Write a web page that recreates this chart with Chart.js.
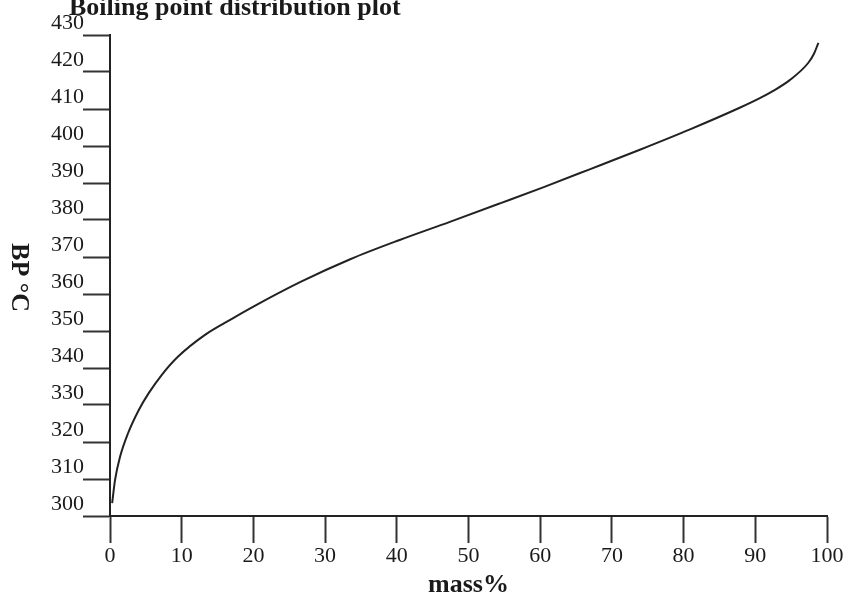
<!DOCTYPE html>
<html>
<head>
<meta charset="utf-8">
<script src="https://cdn.jsdelivr.net/npm/chart.js@4/dist/chart.umd.min.js"></script>
<style>
  html, body { margin: 0; padding: 0; background: #fff; }
  #wrap { position: relative; width: 846px; height: 594px; }
</style>
</head>
<body>
<div id="wrap"><canvas id="c" width="846" height="594"></canvas></div>
<script>
// ---- data ----
const massPercent = [0.3, 0.7, 1.4, 2.5, 4.0, 5.4, 7.2, 9.5, 13.2, 17.0, 20.0, 26.5, 33.5, 40.4, 47.4, 54.4, 60.5, 66.9, 73.9, 80.9, 87.9, 90.7, 92.5, 94.8, 97.4, 98.2, 98.8];
const boilingPoint = [303.5, 309.7, 316.0, 322.3, 328.6, 333.2, 338.1, 343.1, 348.9, 353.3, 356.6, 363.2, 369.4, 374.6, 379.5, 384.5, 388.9, 393.7, 399.0, 404.5, 410.4, 413.0, 414.9, 417.8, 422.5, 425.0, 427.9];
const xTickValues = [0, 10, 20, 30, 40, 50, 60, 70, 80, 90, 100];
const yTickValues = [300, 310, 320, 330, 340, 350, 360, 370, 380, 390, 400, 410, 420, 430];
const chartTitle = 'Boiling point distribution plot';
const xTitle = 'mass%';
const yTitle = 'BP °C';

const SERIF = '"Liberation Serif", "Times New Roman", serif';
const INK = '#1a1a1a';

const points = massPercent.map((m, i) => ({ x: m, y: boilingPoint[i] }));

const titlesPlugin = {
  id: 'titlesPlugin',
  afterDraw(chart) {
    const ctx = chart.ctx;
    const area = chart.chartArea;
    ctx.save();
    ctx.fillStyle = INK;
    // chart title (partly cut at the top, as in the reference)
    ctx.font = 'bold 26px ' + SERIF;
    ctx.textAlign = 'left';
    ctx.textBaseline = 'alphabetic';
    ctx.fillText(chartTitle, 69, 15);
    // y axis title, rotated clockwise
    ctx.translate(19, (area.top + area.bottom) / 2 + 2);
    ctx.rotate(Math.PI / 2);
    ctx.textAlign = 'center';
    ctx.textBaseline = 'middle';
    ctx.font = 'bold 26px ' + SERIF;
    ctx.fillText(yTitle, 0, 0);
    ctx.restore();
  }
};

new Chart(document.getElementById('c'), {
  type: 'scatter',
  data: {
    datasets: [{
      data: points,
      showLine: true,
      borderColor: '#222',
      borderWidth: 2,
      pointRadius: 0,
      pointHoverRadius: 0,
      cubicInterpolationMode: 'monotone',
      fill: false
    }]
  },
  options: {
    responsive: false,
    animation: false,
    events: [],
    layout: { padding: { top: 35, right: 19, bottom: 0, left: 0 } },
    plugins: {
      legend: { display: false },
      tooltip: { enabled: false },
      title: { display: false }
    },
    scales: {
      x: {
        type: 'linear',
        min: 0,
        max: 100,
        afterBuildTicks: (s) => { s.ticks = xTickValues.map(v => ({ value: v })); },
        afterFit: (s) => { s.height = 78; },
        ticks: {
          color: INK,
          font: { family: SERIF, size: 22 },
          padding: 0,
          maxRotation: 0,
          autoSkip: false
        },
        grid: {
          display: true,
          drawOnChartArea: false,
          drawTicks: true,
          tickLength: 27,
          tickColor: '#333',
          tickWidth: 2
        },
        border: { display: true, color: '#222', width: 2 },
        title: {
          display: true,
          text: xTitle,
          color: INK,
          font: { family: SERIF, size: 26, weight: 'bold', lineHeight: 0.7 },
          padding: { top: 0, bottom: 0 }
        }
      },
      y: {
        type: 'linear',
        min: 300,
        max: 430,
        afterBuildTicks: (s) => { s.ticks = yTickValues.map(v => ({ value: v })); },
        afterFit: (s) => { s.width = 110; },
        ticks: {
          color: INK,
          font: { family: SERIF, size: 22 },
          padding: -1,
          labelOffset: -12,
          autoSkip: false
        },
        grid: {
          display: true,
          drawOnChartArea: false,
          drawTicks: true,
          tickLength: 27,
          tickColor: '#333',
          tickWidth: 2
        },
        border: { display: true, color: '#222', width: 2 },
        title: { display: false }
      }
    }
  },
  plugins: [titlesPlugin]
});
</script>
</body>
</html>
